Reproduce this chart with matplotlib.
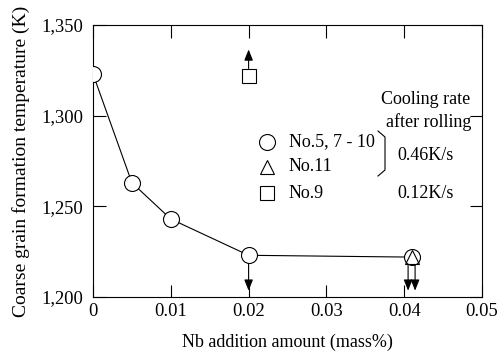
import matplotlib
matplotlib.use("Agg")
import matplotlib.pyplot as plt
from matplotlib.ticker import FuncFormatter

plt.rcParams['font.family'] = ['Liberation Serif', 'DejaVu Serif']

# data
nb_circle = [0.0, 0.005, 0.01, 0.02, 0.041]
t_circle = [1323, 1263, 1243, 1223, 1222]
nb_tri = [0.041]
t_tri = [1222]
nb_sq = [0.02]
t_sq = [1322]
x_ticks = [0, 0.01, 0.02, 0.03, 0.04, 0.05]
x_labels = ["0", "0.01", "0.02", "0.03", "0.04", "0.05"]
y_ticks = [1200, 1250, 1300, 1350]

L, R, T, B = 93, 482, 25, 297
fig = plt.figure(figsize=(5.0, 3.58), dpi=100)
ax = fig.add_axes([L/500, 1-B/358, (R-L)/500, (B-T)/358])

ax.plot(nb_circle, t_circle, color='black', lw=0.8, zorder=1)

ap = dict(arrowstyle='-|>,head_length=0.55,head_width=0.22', color='black', lw=0.8,
          mutation_scale=12, shrinkA=0, shrinkB=0)
ax.annotate('', xy=(0.02, 1336.5), xytext=(0.02, 1326), arrowprops=ap, zorder=2)
ax.annotate('', xy=(0.02, 1203.5), xytext=(0.02, 1222), arrowprops=ap, zorder=2)
ax.annotate('', xy=(0.0405, 1203.5), xytext=(0.0405, 1222), arrowprops=ap, zorder=2)
ax.annotate('', xy=(0.0414, 1203.5), xytext=(0.0414, 1222), arrowprops=ap, zorder=2)

ax.plot(nb_circle, t_circle, 'o', ms=11.5, mfc='white', mec='black', mew=0.8, zorder=3)
ax.plot(nb_tri, t_tri, '^', ms=10, mfc='none', mec='black', mew=0.8, zorder=4)
ax.plot(nb_sq, t_sq, 's', ms=10.5, mfc='white', mec='black', mew=0.8, zorder=3)

ax.set_xlim(0, 0.05)
ax.set_ylim(1200, 1350)
ax.set_xticks(x_ticks)
ax.set_xticklabels(x_labels)
ax.set_yticks(y_ticks)
ax.yaxis.set_major_formatter(FuncFormatter(lambda v, p: f"{int(v):,}"))
ax.tick_params(direction='in', length=9, width=0.8, top=True, right=True,
               labelsize=13.3)
ax.tick_params(axis='x', pad=4)
ax.tick_params(axis='y', pad=7)
for s in ax.spines.values():
    s.set_linewidth(0.8)
ax.set_xlabel('Nb addition amount (mass%)', fontsize=13, labelpad=10)
ax.set_ylabel('Coarse grain formation temperature (K)', fontsize=14, labelpad=8)


def px2data(px, py):
    x = (px - L) / (R - L) * 0.05
    y = 1350 - (py - T) / (B - T) * 150
    return x, y


for (mk, ms, label, py) in [('o', 11.5, 'No.5, 7 - 10', 142), ('^', 10, 'No.11', 167),
                            ('s', 10.5, 'No.9', 193)]:
    mx, my = px2data(267, py)
    ax.plot([mx], [my], mk, ms=ms, mfc='white', mec='black', mew=0.8, clip_on=False)
    tx, ty = px2data(289, py)
    ax.text(tx, ty, label, fontsize=13, va='center', ha='left')

tx, ty = px2data(470, 100)
ax.text(tx, ty, 'Cooling rate', fontsize=13, va='center', ha='right')
tx, ty = px2data(471, 122)
ax.text(tx, ty, 'after rolling', fontsize=13, va='center', ha='right')
tx, ty = px2data(397, 156)
ax.text(tx, ty, '0.46K/s', fontsize=13, va='center', ha='left')
tx, ty = px2data(397, 193)
ax.text(tx, ty, '0.12K/s', fontsize=13, va='center', ha='left')

# bracket
pts = [px2data(378, 131), px2data(385, 137), px2data(385, 170), px2data(378, 176)]
ax.plot([p[0] for p in pts], [p[1] for p in pts], color='black', lw=0.8)

fig.savefig('out.png', dpi=100)
